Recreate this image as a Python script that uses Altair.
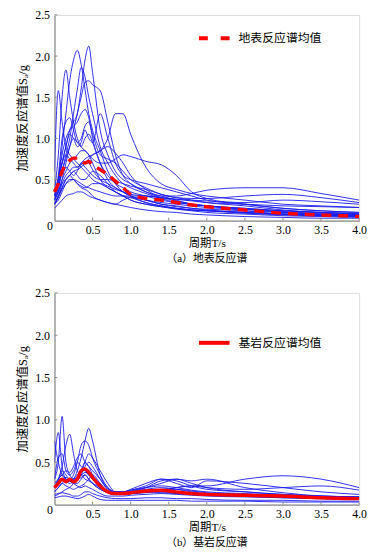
import altair as alt
import pandas as pd

T = [0, 0.05, 0.1, 0.15, 0.2, 0.25, 0.3, 0.35, 0.4, 0.45, 0.5, 0.6, 0.7, 0.8, 0.9, 1.0,
     1.2, 1.4, 1.6, 1.8, 2.0, 2.5, 3.0, 3.5, 4.0]

TOP_CURVES = [
    [0.3, 0.5, 0.7, 0.9, 1.1, 1.2, 1.3, 1.6, 1.95, 2.12, 1.8, 1.1, 0.8, 0.6, 0.5, 0.45, 0.35, 0.3, 0.25, 0.2, 0.18, 0.12, 0.08, 0.06, 0.05],
    [0.25, 0.5, 0.9, 1.3, 1.7, 1.95, 2.07, 1.9, 1.6, 1.3, 1.1, 0.85, 0.6, 0.45, 0.35, 0.3, 0.22, 0.18, 0.15, 0.13, 0.12, 0.09, 0.07, 0.06, 0.05],
    [0.35, 0.8, 1.5, 1.83, 1.5, 1.2, 1.0, 0.9, 0.85, 0.8, 0.7, 0.5, 0.4, 0.35, 0.3, 0.25, 0.2, 0.17, 0.14, 0.12, 0.1, 0.08, 0.06, 0.05, 0.04],
    [0.6, 1.58, 1.2, 0.9, 0.8, 0.75, 0.7, 0.65, 0.6, 0.55, 0.5, 0.45, 0.4, 0.35, 0.3, 0.28, 0.22, 0.18, 0.15, 0.13, 0.12, 0.1, 0.08, 0.07, 0.06],
    [0.3, 0.4, 0.6, 0.8, 1.0, 1.3, 1.6, 1.86, 1.75, 1.5, 1.3, 0.9, 0.7, 0.55, 0.45, 0.4, 0.33, 0.27, 0.22, 0.2, 0.18, 0.14, 0.1, 0.08, 0.07],
    [0.25, 0.35, 0.5, 0.7, 0.9, 1.1, 1.3, 1.5, 1.68, 1.7, 1.65, 1.58, 1.2, 0.8, 0.55, 0.45, 0.35, 0.28, 0.24, 0.2, 0.18, 0.15, 0.12, 0.1, 0.08],
    [0.2, 0.3, 0.4, 0.5, 0.55, 0.6, 0.62, 0.65, 0.7, 0.75, 0.8, 0.85, 1.0, 1.3, 1.3, 1.05, 0.65, 0.45, 0.38, 0.33, 0.3, 0.25, 0.2, 0.18, 0.16],
    [0.2, 0.3, 0.45, 0.55, 0.6, 0.65, 0.65, 0.7, 0.75, 0.78, 0.8, 0.85, 0.9, 0.82, 0.7, 0.55, 0.38, 0.3, 0.3, 0.33, 0.37, 0.4, 0.4, 0.33, 0.25],
    [0.3, 0.55, 1.0, 1.2, 1.25, 1.1, 0.95, 1.0, 1.15, 1.2, 1.05, 0.8, 0.75, 0.7, 0.6, 0.5, 0.4, 0.32, 0.28, 0.25, 0.22, 0.18, 0.13, 0.1, 0.08],
    [0.3, 0.45, 0.7, 0.9, 1.05, 1.0, 0.9, 0.95, 1.1, 1.0, 0.95, 1.3, 1.0, 0.7, 0.55, 0.5, 0.45, 0.4, 0.35, 0.3, 0.25, 0.2, 0.15, 0.12, 0.1],
    [0.25, 0.35, 0.5, 0.6, 0.7, 0.75, 0.8, 0.85, 0.85, 0.8, 0.75, 0.7, 0.7, 0.75, 0.8, 0.78, 0.72, 0.68, 0.55, 0.35, 0.27, 0.2, 0.15, 0.12, 0.1],
    [0.2, 0.25, 0.35, 0.45, 0.5, 0.5, 0.45, 0.42, 0.4, 0.42, 0.45, 0.45, 0.42, 0.38, 0.35, 0.3, 0.25, 0.2, 0.18, 0.15, 0.14, 0.12, 0.1, 0.08, 0.07],
    [0.15, 0.2, 0.25, 0.3, 0.32, 0.33, 0.35, 0.35, 0.33, 0.3, 0.28, 0.25, 0.22, 0.2, 0.18, 0.16, 0.13, 0.11, 0.1, 0.08, 0.07, 0.05, 0.04, 0.03, 0.03],
    [0.3, 0.45, 0.6, 0.65, 0.6, 0.55, 0.6, 0.7, 0.65, 0.6, 0.55, 0.5, 0.5, 0.48, 0.45, 0.42, 0.38, 0.32, 0.28, 0.27, 0.27, 0.3, 0.32, 0.28, 0.22],
    [0.35, 0.5, 0.7, 0.8, 0.75, 0.7, 0.65, 0.68, 0.72, 0.7, 0.62, 0.5, 0.45, 0.4, 0.35, 0.3, 0.25, 0.22, 0.2, 0.18, 0.16, 0.14, 0.11, 0.09, 0.08],
    [0.2, 0.3, 0.4, 0.5, 0.55, 0.5, 0.45, 0.4, 0.38, 0.35, 0.3, 0.25, 0.22, 0.2, 0.25, 0.28, 0.25, 0.2, 0.17, 0.15, 0.13, 0.1, 0.08, 0.07, 0.06],
    [0.25, 0.4, 0.6, 0.75, 0.9, 1.0, 0.95, 0.9, 1.0, 1.05, 0.95, 0.7, 0.55, 0.45, 0.4, 0.35, 0.3, 0.25, 0.22, 0.2, 0.18, 0.15, 0.12, 0.1, 0.09],
    [0.3, 0.5, 0.8, 1.0, 1.1, 1.15, 1.2, 1.3, 1.35, 1.25, 1.0, 0.7, 0.5, 0.4, 0.35, 0.32, 0.3, 0.28, 0.26, 0.24, 0.22, 0.2, 0.18, 0.17, 0.16],
    [0.25, 0.35, 0.45, 0.5, 0.55, 0.6, 0.55, 0.5, 0.5, 0.55, 0.6, 0.55, 0.45, 0.35, 0.3, 0.25, 0.2, 0.17, 0.15, 0.13, 0.12, 0.1, 0.08, 0.07, 0.06],
    [0.2, 0.28, 0.38, 0.45, 0.48, 0.5, 0.48, 0.45, 0.42, 0.4, 0.38, 0.35, 0.32, 0.3, 0.3, 0.3, 0.3, 0.28, 0.26, 0.25, 0.24, 0.22, 0.25, 0.23, 0.2],
]
TOP_MEAN = [0.35, 0.45, 0.6, 0.68, 0.73, 0.76, 0.76, 0.73, 0.7, 0.72, 0.68, 0.62, 0.56, 0.48, 0.4, 0.32,
            0.27, 0.25, 0.22, 0.19, 0.17, 0.13, 0.09, 0.07, 0.05]

BOT_CURVES = [
    [0.3, 0.5, 1.04, 0.5, 0.35, 0.3, 0.3, 0.32, 0.35, 0.3, 0.25, 0.18, 0.15, 0.13, 0.13, 0.14, 0.15, 0.15, 0.13, 0.12, 0.11, 0.1, 0.08, 0.07, 0.06],
    [0.5, 0.85, 0.45, 0.3, 0.28, 0.25, 0.25, 0.3, 0.35, 0.3, 0.25, 0.18, 0.14, 0.12, 0.12, 0.13, 0.15, 0.17, 0.18, 0.16, 0.14, 0.12, 0.1, 0.08, 0.07],
    [0.2, 0.3, 0.45, 0.7, 0.83, 0.6, 0.4, 0.35, 0.38, 0.35, 0.3, 0.2, 0.15, 0.13, 0.13, 0.15, 0.18, 0.2, 0.18, 0.15, 0.13, 0.11, 0.1, 0.09, 0.08],
    [0.15, 0.2, 0.25, 0.3, 0.28, 0.3, 0.4, 0.55, 0.75, 0.9, 0.75, 0.35, 0.2, 0.15, 0.14, 0.15, 0.2, 0.28, 0.3, 0.25, 0.2, 0.15, 0.12, 0.1, 0.09],
    [0.2, 0.25, 0.3, 0.32, 0.3, 0.35, 0.5, 0.7, 0.75, 0.7, 0.55, 0.35, 0.2, 0.15, 0.15, 0.17, 0.2, 0.22, 0.2, 0.17, 0.15, 0.13, 0.11, 0.1, 0.09],
    [0.2, 0.3, 0.35, 0.4, 0.38, 0.45, 0.55, 0.6, 0.5, 0.45, 0.4, 0.3, 0.18, 0.14, 0.13, 0.13, 0.14, 0.16, 0.2, 0.22, 0.22, 0.3, 0.34, 0.3, 0.2],
    [0.75, 0.5, 0.35, 0.3, 0.28, 0.25, 0.22, 0.2, 0.22, 0.2, 0.18, 0.13, 0.1, 0.1, 0.1, 0.11, 0.12, 0.13, 0.12, 0.11, 0.1, 0.09, 0.08, 0.07, 0.06],
    [0.15, 0.2, 0.25, 0.22, 0.2, 0.18, 0.2, 0.22, 0.25, 0.3, 0.35, 0.25, 0.15, 0.12, 0.12, 0.13, 0.15, 0.18, 0.2, 0.22, 0.2, 0.18, 0.2, 0.22, 0.17],
    [0.12, 0.13, 0.14, 0.13, 0.12, 0.1, 0.1, 0.12, 0.15, 0.15, 0.13, 0.1, 0.08, 0.07, 0.07, 0.07, 0.08, 0.08, 0.07, 0.07, 0.06, 0.05, 0.05, 0.04, 0.04],
    [0.2, 0.25, 0.3, 0.28, 0.25, 0.27, 0.3, 0.35, 0.45, 0.5, 0.45, 0.3, 0.18, 0.15, 0.15, 0.17, 0.22, 0.3, 0.28, 0.22, 0.18, 0.15, 0.12, 0.1, 0.09],
    [0.25, 0.3, 0.35, 0.3, 0.28, 0.3, 0.35, 0.4, 0.5, 0.45, 0.35, 0.25, 0.15, 0.13, 0.14, 0.16, 0.2, 0.25, 0.3, 0.28, 0.3, 0.2, 0.14, 0.1, 0.08],
    [0.3, 0.55, 0.6, 0.4, 0.35, 0.4, 0.5, 0.45, 0.4, 0.35, 0.3, 0.2, 0.15, 0.13, 0.13, 0.14, 0.15, 0.14, 0.13, 0.12, 0.11, 0.1, 0.09, 0.08, 0.07],
    [0.1, 0.12, 0.15, 0.18, 0.2, 0.25, 0.3, 0.35, 0.3, 0.28, 0.25, 0.2, 0.14, 0.12, 0.12, 0.13, 0.15, 0.17, 0.15, 0.13, 0.12, 0.11, 0.1, 0.09, 0.08],
    [0.08, 0.09, 0.1, 0.1, 0.09, 0.08, 0.07, 0.08, 0.1, 0.12, 0.1, 0.06, 0.05, 0.05, 0.05, 0.05, 0.05, 0.05, 0.05, 0.04, 0.04, 0.04, 0.03, 0.03, 0.03],
    [0.2, 0.28, 0.4, 0.35, 0.3, 0.3, 0.32, 0.38, 0.5, 0.6, 0.55, 0.4, 0.25, 0.15, 0.15, 0.18, 0.25, 0.3, 0.25, 0.2, 0.28, 0.25, 0.2, 0.15, 0.12],
]
BOT_MEAN = [0.2, 0.25, 0.3, 0.27, 0.3, 0.27, 0.3, 0.4, 0.42, 0.38, 0.32, 0.22, 0.15, 0.13, 0.13, 0.14,
            0.16, 0.17, 0.15, 0.13, 0.12, 0.11, 0.1, 0.08, 0.07]

X_TICKS = [0, 0.5, 1.0, 1.5, 2.0, 2.5, 3.0, 3.5, 4.0]
Y_TICKS = [0, 0.5, 1.0, 1.5, 2.0, 2.5]

FONT = "'Liberation Serif', 'Times New Roman', 'Noto Sans CJK SC', serif"
AXIS_GREY = "#8c8c8c"


def long_form(curves):
    rows = []
    for i, c in enumerate(curves):
        for t, v in zip(T, c):
            rows.append({"id": i, "T": t, "Sa": v})
    return pd.DataFrame(rows)


def panel(curves, mean, name, dash, caption, h, legend_y):
    xs = alt.Scale(domain=[0, 4], nice=False)
    ys = alt.Scale(domain=[0, 2.5], nice=False)
    xaxis = alt.Axis(values=X_TICKS, labelExpr="datum.value == 0 ? '' : format(datum.value, '.1f')",
                     tickSize=0, labelPadding=4, labelFlush=False, domainColor=AXIS_GREY, domainWidth=1.2,
                     grid=False, title="周期T/s", titleFont=FONT, titleFontSize=11.5, titleFontWeight="normal",
                     titlePadding=2, labelFont=FONT, labelFontSize=12, labelColor="#000", titleColor="#000")
    yaxis = alt.Axis(values=Y_TICKS, labelExpr="datum.value == 0 ? '0' : format(datum.value, '.1f')",
                     tickSize=0, domainColor=AXIS_GREY, domainWidth=1.2, grid=False,
                     labelPadding={"condition": {"test": "datum.value == 0", "value": 2}, "value": 5},
                     labelOffset={"condition": {"test": "datum.value == 0", "value": 5}, "value": 0},
                     title="加速度反应谱值Sₐ/g", titleFont=FONT, titleFontSize=12.5, titleFontWeight="normal",
                     titlePadding=5, labelFont=FONT, labelFontSize=12, labelColor="#000", titleColor="#000")
    blue = alt.Chart(long_form(curves)).mark_line(
        color="#1a1aee", strokeWidth=0.9, interpolate="monotone", clip=True
    ).encode(
        x=alt.X("T:Q", scale=xs, axis=xaxis),
        y=alt.Y("Sa:Q", scale=ys, axis=yaxis),
        detail="id:N",
    )
    legend_kw = dict(orient="none", legendX=144, legendY=legend_y, title=None, symbolType="stroke",
                     symbolSize=961, symbolStrokeWidth=4, labelFont=FONT, labelFontSize=12,
                     labelOffset=7, padding=0, labelColor="#000")
    mark_kw = dict(strokeWidth=3.5, interpolate="monotone")
    if dash:
        legend_kw["symbolDash"] = [9, 13]
        mark_kw["strokeDash"] = dash
    mdf = pd.DataFrame({"T": T, "Sa": mean, "series": name})
    red = alt.Chart(mdf).mark_line(**mark_kw).encode(
        x=alt.X("T:Q", scale=xs, axis=xaxis),
        y=alt.Y("Sa:Q", scale=ys, axis=yaxis),
        color=alt.Color("series:N", scale=alt.Scale(range=["#ff0000"]), legend=alt.Legend(**legend_kw)),
    )
    xt = alt.Chart(pd.DataFrame({"T": X_TICKS[1:]})).mark_rule(color=AXIS_GREY, strokeWidth=1).encode(
        x=alt.X("T:Q", scale=xs, axis=xaxis), y=alt.value(h), y2=alt.value(h - 3))
    yt = alt.Chart(pd.DataFrame({"Sa": Y_TICKS[1:]})).mark_rule(color=AXIS_GREY, strokeWidth=1).encode(
        y=alt.Y("Sa:Q", scale=ys, axis=yaxis), x=alt.value(0), x2=alt.value(3))
    return alt.layer(blue, red, xt, yt).properties(
        width=308, height=h,
        title=alt.TitleParams(caption, orient="bottom", anchor="middle", font=FONT, fontSize=11,
                              fontWeight="normal", offset=4, color="#000"),
    )


top = panel(TOP_CURVES, TOP_MEAN, "地表反应谱均值", [10, 7], "（a）地表反应谱", 208, 6)
bot = panel(BOT_CURVES, BOT_MEAN, "基岩反应谱均值", None, "（b）基岩反应谱", 214, 33)

chart = alt.vconcat(top, bot, spacing=22).resolve_scale(color="independent").properties(
    padding={"left": 8, "top": -3, "right": 5, "bottom": 5}
).configure_view(stroke=None).configure(background="white")

chart.save("out.html", embed_options={"renderer": "svg", "actions": False})
